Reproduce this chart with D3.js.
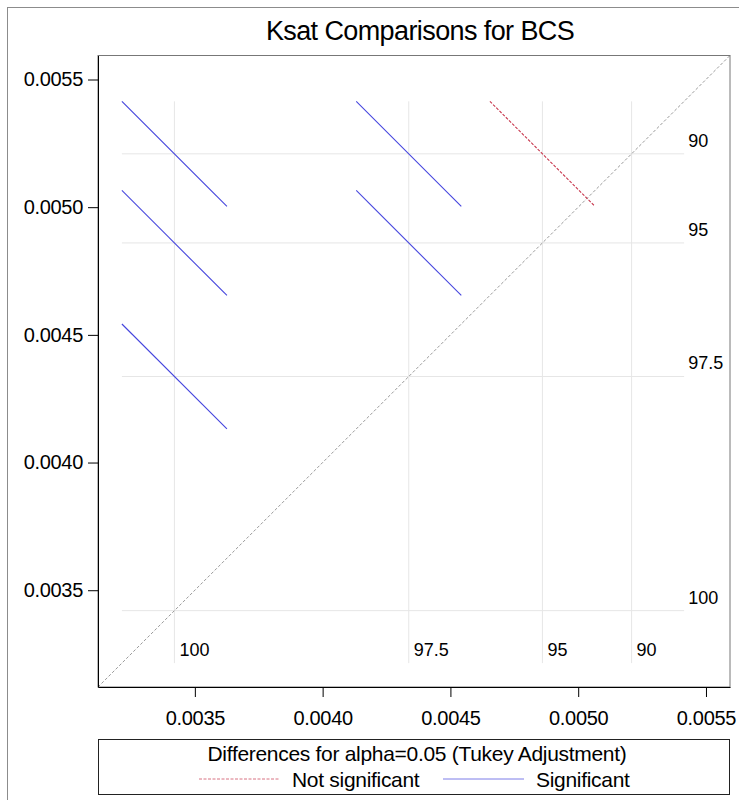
<!DOCTYPE html>
<html>
<head>
<meta charset="utf-8">
<script src="https://cdn.jsdelivr.net/npm/d3@7"></script>
<style>
    html, body { margin: 0; padding: 0; background: #fff; }
    svg { display: block; font-family: "Liberation Sans", Arial, sans-serif; }
</style>
</head>
<body>
<div id="chart"></div>
<script>
// group levels and their Ksat means
const levels = ['100', '97.5', '95', '90'];
const means = [0.003420, 0.004337, 0.004860, 0.005209];

// pairwise comparisons (x level vs y level) with Tukey CI half-widths
const pairX = ['100', '100', '100', '97.5', '97.5', '95'];
const pairY = ['90', '95', '97.5', '90', '95', '90'];
const ciHalfWidth = [0.000411, 0.000411, 0.000411, 0.000411, 0.000411, 0.000411];

const axisTicks = [0.0035, 0.0040, 0.0045, 0.0050, 0.0055];
const axisDomain = [0.003121, 0.005594];

const width = 739, height = 800;
const plot = { left: 98, top: 55.5, right: 730, bottom: 687 };

const colors = {
    sig: '#4646de',
    notSig: '#c8384e',
    ref: '#e6e6e6',
    diag: '#9a9a9a'
};

const meanOf = lvl => means[levels.indexOf(lvl)];

const x = d3.scaleLinear().domain(axisDomain).range([plot.left, plot.right]);
const y = d3.scaleLinear().domain(axisDomain).range([plot.bottom, plot.top]);

const segments = pairX.map((a, i) => {
    const mx = meanOf(a), my = meanOf(pairY[i]);
    const h = ciHalfWidth[i] / 2;
    return {
        pts: [[mx - h, my + h], [mx + h, my - h]],
        significant: Math.abs(my - mx) > ciHalfWidth[i]
    };
});

// reference lines span the full extent of the segments
const lo = d3.min(segments, d => Math.min(d.pts[0][0], d.pts[1][1]));
const hi = d3.max(segments, d => Math.max(d.pts[1][0], d.pts[0][1]));

const svg = d3.select('#chart').append('svg')
    .attr('width', width)
    .attr('height', height);

// outer graph border
svg.append('rect')
    .attr('x', 7.5).attr('y', 7.5)
    .attr('width', width + 20).attr('height', height + 20)
    .attr('fill', 'none')
    .attr('stroke', '#8c8c8c');

svg.append('text')
    .attr('x', 420)
    .attr('y', 40)
    .attr('text-anchor', 'middle')
    .attr('font-size', 27)
    .attr('letter-spacing', -0.6)
    .text('Ksat Comparisons for BCS');

const g = svg.append('g');

// reference lines at each mean
g.selectAll('line.vref')
    .data(means)
    .join('line')
    .attr('class', 'vref')
    .attr('x1', d => x(d)).attr('x2', d => x(d))
    .attr('y1', y(hi)).attr('y2', y(lo))
    .attr('stroke', colors.ref);

g.selectAll('line.href')
    .data(means)
    .join('line')
    .attr('class', 'href')
    .attr('y1', d => y(d)).attr('y2', d => y(d))
    .attr('x1', x(lo)).attr('x2', x(hi))
    .attr('stroke', colors.ref);

g.append('g')
    .attr('font-size', 18)
    .selectAll('text')
    .data(levels)
    .join('text')
    .attr('x', x(hi) + 4)
    .attr('y', (d, i) => y(means[i]) - 7)
    .text(d => d);

g.append('g')
    .attr('font-size', 18)
    .selectAll('text')
    .data(levels)
    .join('text')
    .attr('x', (d, i) => x(means[i]) + 5)
    .attr('y', y(lo) - 7)
    .text(d => d);

// y = x diagonal
g.append('line')
    .attr('x1', x(axisDomain[0])).attr('y1', y(axisDomain[0]))
    .attr('x2', x(axisDomain[1])).attr('y2', y(axisDomain[1]))
    .attr('stroke', colors.diag)
    .attr('stroke-dasharray', '3,2');

// one segment per pair, centred on (mean x, mean y)
const segLine = d3.line().x(d => x(d[0])).y(d => y(d[1]));

g.append('g')
    .attr('fill', 'none')
    .selectAll('path')
    .data(segments)
    .join('path')
    .attr('d', d => segLine(d.pts))
    .attr('stroke', d => d.significant ? colors.sig : colors.notSig)
    .attr('stroke-width', 1.1)
    .attr('stroke-dasharray', d => d.significant ? null : '3,1.5');

// plot frame
svg.append('rect')
    .attr('x', plot.left).attr('y', plot.top)
    .attr('width', plot.right - plot.left).attr('height', plot.bottom - plot.top)
    .attr('fill', 'none')
    .attr('stroke', '#777');

const fmt = d3.format('.4f');

svg.append('g')
    .attr('transform', `translate(0,${plot.bottom})`)
    .call(d3.axisBottom(x).tickValues(axisTicks).tickFormat(fmt).tickSize(10).tickPadding(14).tickSizeOuter(0))
    .call(a => {
        a.attr('font-family', null).attr('font-size', 20).attr('letter-spacing', -0.3);
        a.selectAll('.tick text').attr('fill', '#000');
        a.select('.domain').attr('stroke', '#000');
    });

svg.append('g')
    .attr('transform', `translate(${plot.left},0)`)
    .call(d3.axisLeft(y).tickValues(axisTicks).tickFormat(fmt).tickSize(10).tickPadding(5).tickSizeOuter(0))
    .call(a => {
        a.attr('font-family', null).attr('font-size', 20).attr('letter-spacing', -0.3);
        a.selectAll('.tick text').attr('fill', '#000');
        a.select('.domain').attr('stroke', '#000');
    });

// legend
const legend = svg.append('g');
legend.append('rect')
    .attr('x', plot.left + 0.5).attr('y', 739.5)
    .attr('width', plot.right - plot.left - 1).attr('height', 55)
    .attr('fill', 'none')
    .attr('stroke', '#222');

legend.append('text')
    .attr('x', 417)
    .attr('y', 761)
    .attr('text-anchor', 'middle')
    .attr('font-size', 21)
    .attr('letter-spacing', -0.3)
    .text('Differences for alpha=0.05 (Tukey Adjustment)');

const legendItems = [
    { label: 'Not significant', color: colors.notSig, dash: '3,1.5', x: 199 },
    { label: 'Significant', color: colors.sig, dash: null, x: 443 }
];

const item = legend.selectAll('g.item')
    .data(legendItems)
    .join('g')
    .attr('class', 'item')
    .attr('transform', d => `translate(${d.x},779)`);

item.append('line')
    .attr('x1', 0).attr('x2', 81)
    .attr('stroke', d => d.color)
    .attr('stroke-opacity', 0.7)
    .attr('stroke-dasharray', d => d.dash);

item.append('text')
    .attr('x', 93)
    .attr('y', 8)
    .attr('font-size', 21)
    .attr('letter-spacing', -0.3)
    .text(d => d.label);
</script>
</body>
</html>
